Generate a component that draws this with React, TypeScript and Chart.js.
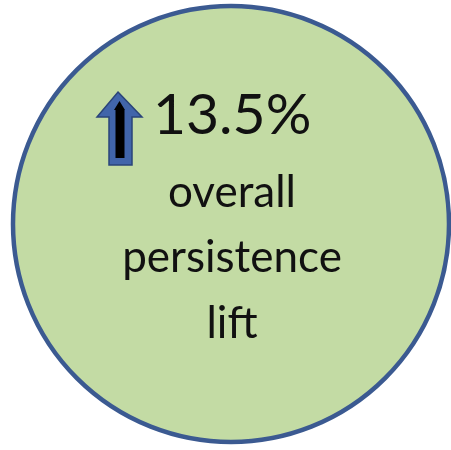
import React, { useEffect, useRef } from "react";
import { Chart, registerables } from "chart.js";

Chart.register(...registerables);

const labels = ["overall persistence lift"];
const values = [13.5];
const headline = "13.5%";
const captionLines = ["overall", "persistence", "lift"];

const FILL = "#c3dba4";
const BORDER = "#3b5a91";

const textPlugin = {
  id: "centerText",
  afterDatasetsDraw(chart: any) {
    const ctx = chart.ctx as CanvasRenderingContext2D;
    const arc = chart.getDatasetMeta(0).data[0] as any;
    ctx.save();
    ctx.beginPath();
    ctx.arc(arc.x, arc.y, arc.outerRadius, 0, Math.PI * 2);
    ctx.lineWidth = 4.5;
    ctx.strokeStyle = BORDER;
    ctx.stroke();
    ctx.restore();
  },
  afterDraw(chart: any) {
    const ctx = chart.ctx as CanvasRenderingContext2D;
    ctx.save();
    // arrow (blue outer)
    ctx.beginPath();
    ctx.moveTo(118, 92);
    ctx.lineTo(142, 117);
    ctx.lineTo(132, 117);
    ctx.lineTo(132, 165);
    ctx.lineTo(109, 165);
    ctx.lineTo(109, 117);
    ctx.lineTo(97, 117);
    ctx.closePath();
    ctx.fillStyle = "#4165aa";
    ctx.fill();
    ctx.lineWidth = 1.5;
    ctx.strokeStyle = "#2a4479";
    ctx.stroke();
    // inner black arrow
    ctx.beginPath();
    ctx.moveTo(119.5, 101);
    ctx.lineTo(125, 110);
    ctx.lineTo(124.5, 110);
    ctx.lineTo(124.5, 158);
    ctx.lineTo(115.5, 158);
    ctx.lineTo(115.5, 110);
    ctx.lineTo(114, 110);
    ctx.closePath();
    ctx.fillStyle = "#000000";
    ctx.fill();

    ctx.fillStyle = "#111111";
    ctx.textBaseline = "alphabetic";
    ctx.textAlign = "left";
    ctx.font = "57px Lato";
    ctx.fillText(headline, 153, 134);

    ctx.textAlign = "center";
    ctx.font = "44px Lato";
    const baselines = [207, 272, 338];
    captionLines.forEach((line, i) => ctx.fillText(line, 232, baselines[i]));
    ctx.restore();
  },
};

export default function App() {
  const ref = useRef<HTMLCanvasElement | null>(null);
  useEffect(() => {
    if (!ref.current) return;
    const chart = new Chart(ref.current, {
      type: "pie",
      data: {
        labels,
        datasets: [
          {
            data: values,
            backgroundColor: FILL,
            borderWidth: 0,
            hoverOffset: 0,
          },
        ],
      },
      options: {
        responsive: false,
        animation: false,
        radius: 218,
        layout: { padding: { left: 12, right: 1, top: 0, bottom: 2 } },
        events: [],
        plugins: {
          legend: { display: false },
          tooltip: { enabled: false },
        },
      },
      plugins: [textPlugin],
    });
    return () => chart.destroy();
  }, []);
  return (
    <div style={{ position: "fixed", left: 0, top: 0, width: 451, height: 450, background: "#fff" }}>
      <canvas ref={ref} width={451} height={450} style={{ width: 451, height: 450 }} />
    </div>
  );
}
